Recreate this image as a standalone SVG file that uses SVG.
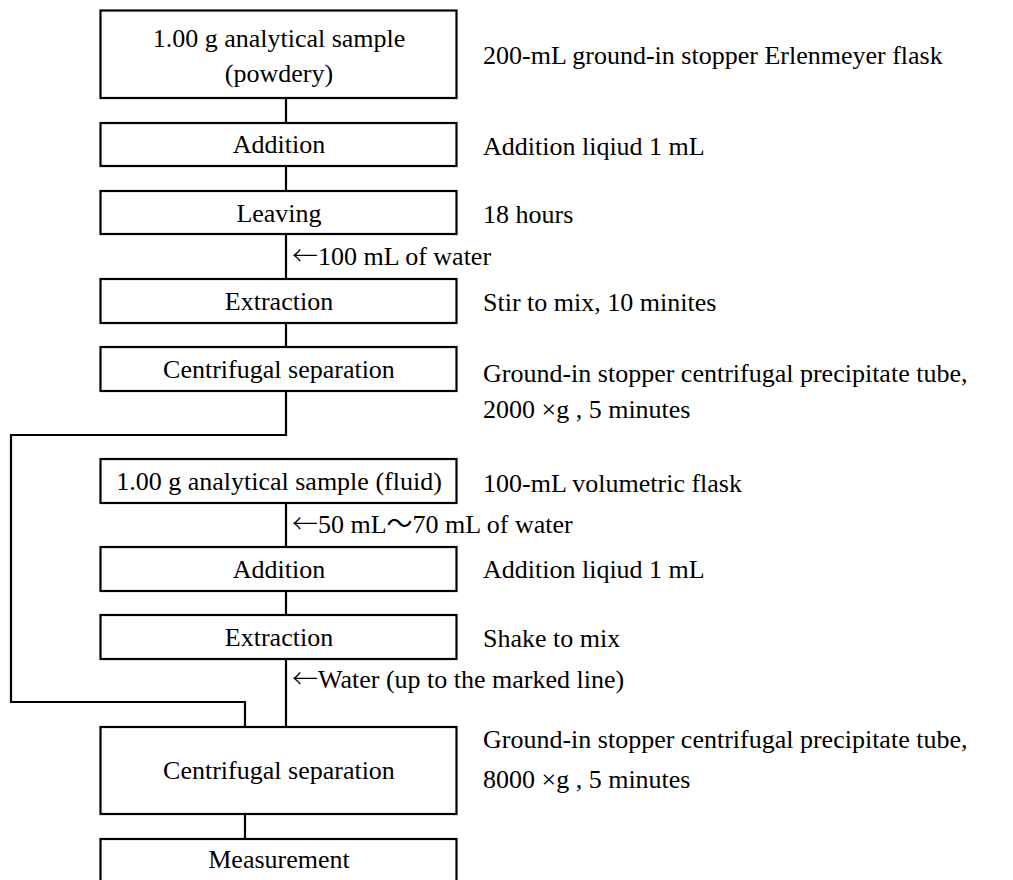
<svg xmlns="http://www.w3.org/2000/svg" width="1013" height="880" viewBox="0 0 1013 880">
<style>
.box{fill:#fff;stroke:#000;stroke-width:2.2}
.ln{fill:none;stroke:#000;stroke-width:2.2}
text{font-family:"Liberation Serif","Times New Roman","Noto Sans CJK JP",serif;font-size:26px;fill:#000}
.c{text-anchor:middle}
.ar{font-family:"Noto Sans CJK JP",sans-serif;font-weight:300}
</style>
<rect width="1013" height="880" fill="#fff"/>
<g id="connectors">
<path class="ln" d="M286 98V123M286 166V191M286 234V279M286 323V347M286 391V435H11V702H245V727M286 503V547M286 591V615M286 659V727M245 814V839"/>
</g>
<g id="n1"><rect class="box" x="100.5" y="10.5" width="356" height="87.5"/><text class="c" x="279" y="47">1.00 g analytical sample</text><text class="c" x="279" y="82">(powdery)</text></g>
<g id="n2"><rect class="box" x="100.5" y="123" width="356" height="43"/><text class="c" x="279" y="153">Addition</text></g>
<g id="n3"><rect class="box" x="100.5" y="191" width="356" height="43"/><text class="c" x="279" y="222">Leaving</text></g>
<g id="n4"><rect class="box" x="100.5" y="279" width="356" height="44"/><text class="c" x="279" y="310">Extraction</text></g>
<g id="n5"><rect class="box" x="100.5" y="347" width="356" height="44"/><text class="c" x="279" y="378">Centrifugal separation</text></g>
<g id="n6"><rect class="box" x="100.5" y="459" width="356" height="44"/><text class="c" x="279" y="490">1.00 g analytical sample (fluid)</text></g>
<g id="n7"><rect class="box" x="100.5" y="547" width="356" height="44"/><text class="c" x="279" y="578">Addition</text></g>
<g id="n8"><rect class="box" x="100.5" y="615" width="356" height="44"/><text class="c" x="279" y="646">Extraction</text></g>
<g id="n9"><rect class="box" x="100.5" y="727" width="356" height="87"/><text class="c" x="279" y="779">Centrifugal separation</text></g>
<g id="n10"><rect class="box" x="100.5" y="839" width="356" height="50"/><text class="c" x="279" y="868">Measurement</text></g>
<g id="labels">
<text x="292" y="265"><tspan class="ar">←</tspan>100 mL of water</text>
<text x="292" y="533"><tspan class="ar">←</tspan>50 mL～70 mL of water</text>
<text x="292" y="688"><tspan class="ar">←</tspan>Water (up to the marked line)</text>
<text x="483" y="64">200-mL ground-in stopper Erlenmeyer flask</text>
<text x="483" y="155">Addition liqiud 1 mL</text>
<text x="483" y="223">18 hours</text>
<text x="483" y="311">Stir to mix, 10 minites</text>
<text x="483" y="382">Ground-in stopper centrifugal precipitate tube,</text>
<text x="483" y="418">2000 ×g , 5 minutes</text>
<text x="483" y="492">100-mL volumetric flask</text>
<text x="483" y="578">Addition liqiud 1 mL</text>
<text x="483" y="647">Shake to mix</text>
<text x="483" y="748">Ground-in stopper centrifugal precipitate tube,</text>
<text x="483" y="788">8000 ×g , 5 minutes</text>
</g>
</svg>
